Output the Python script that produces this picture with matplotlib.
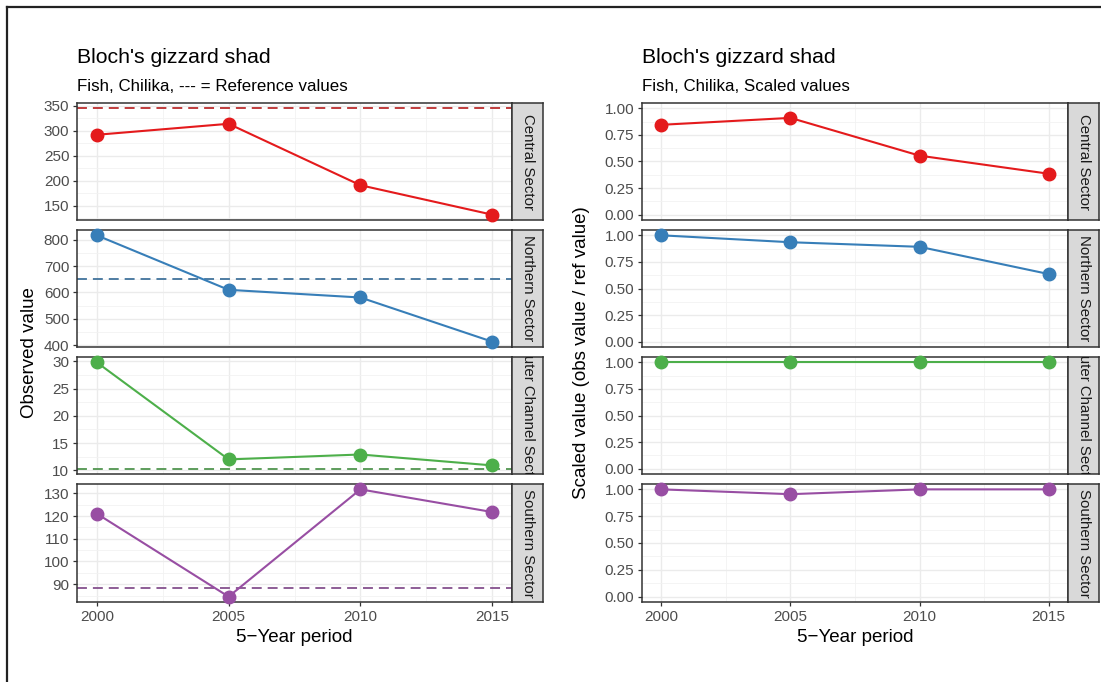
import numpy as np
import matplotlib
matplotlib.use('Agg')
import matplotlib.pyplot as plt
from matplotlib.lines import Line2D
from matplotlib.ticker import FixedLocator, MultipleLocator, FormatStrFormatter
from matplotlib.colors import to_rgb

plt.rcParams['font.family'] = ['Liberation Sans', 'DejaVu Sans']

# data
years = [2000, 2005, 2010, 2015]
sectors = ['Central Sector', 'Northern Sector', 'Outer Channel Sector', 'Southern Sector']
colors = ['#E41A1C', '#377EB8', '#4DAF4A', '#984EA3']

central_obs = [292, 314, 191, 132]
northern_obs = [816, 610, 581, 414]
channel_obs = [29.8, 12.0, 12.9, 10.9]
southern_obs = [121.1, 84.5, 131.8, 121.8]
ref_values = [345, 651, 10.3, 88.2]

central_scaled = [0.845, 0.91, 0.555, 0.385]
northern_scaled = [1.0, 0.935, 0.892, 0.636]
channel_scaled = [1.0, 1.0, 1.0, 1.0]
southern_scaled = [1.0, 0.955, 1.0, 1.0]

obs_ticks = [[150, 200, 250, 300, 350],
             [400, 500, 600, 700, 800],
             [10, 15, 20, 25, 30],
             [90, 100, 110, 120, 130]]
scaled_ticks = [0, 0.25, 0.5, 0.75, 1.0]
x_ticks = [2000, 2005, 2010, 2015]

obs_series = [central_obs, northern_obs, channel_obs, southern_obs]
scaled_series = [central_scaled, northern_scaled, channel_scaled, southern_scaled]

W, H = 1101, 682
fig = plt.figure(figsize=(W / 100, H / 100), dpi=100)
fig.patch.set_facecolor('white')


def box(x0, y0, x1, y1):
    # pixel box (top-left origin) -> figure fraction rect
    return [x0 / W, 1 - y1 / H, (x1 - x0) / W, (y1 - y0) / H]


def blend(c, amount=0.3, grey=0.35):
    r = np.array(to_rgb(c))
    return tuple(r * (1 - amount) + grey * amount)


rows = [(103, 220), (230, 347), (357, 474), (484, 602)]
cols = {'left': (77, 512, 543), 'right': (642, 1068, 1099)}


def style_panel(ax, ticks, fmt, bottom):
    ax.set_facecolor('white')
    for s in ax.spines.values():
        s.set_color('#333333')
        s.set_linewidth(1.1)
    ax.set_xlim(1999.25, 2015.75)
    ax.xaxis.set_major_locator(FixedLocator(x_ticks))
    ax.xaxis.set_minor_locator(FixedLocator([2002.5, 2007.5, 2012.5]))
    ax.yaxis.set_major_locator(FixedLocator(ticks))
    step = ticks[1] - ticks[0]
    ax.yaxis.set_minor_locator(MultipleLocator(step / 2))
    ax.yaxis.set_major_formatter(FormatStrFormatter(fmt))
    ax.grid(which='major', color='#EBEBEB', linewidth=1.0)
    ax.grid(which='minor', color='#F2F2F2', linewidth=0.6)
    ax.set_axisbelow(True)
    ax.tick_params(which='minor', length=0)
    ax.tick_params(which='major', labelsize=11, labelcolor='#4D4D4D',
                   color='#333333', length=3, width=0.9, pad=2.5)
    if not bottom:
        ax.tick_params(axis='x', which='major', length=0, labelbottom=False)


def add_strip(x0, x1, y0, y1, label):
    sa = fig.add_axes(box(x0, y0, x1, y1))
    sa.set_facecolor('#D9D9D9')
    sa.set_xticks([])
    sa.set_yticks([])
    for s in sa.spines.values():
        s.set_color('#333333')
        s.set_linewidth(1.1)
    sa.text(0.5, 0.5, label, rotation=-90, ha='center', va='center',
            fontsize=10.8, color='#1A1A1A', transform=sa.transAxes, clip_on=True)


# left group: observed values with reference lines
px0, px1, sx1 = cols['left']
for i, (y0, y1) in enumerate(rows):
    ax = fig.add_axes(box(px0, y0, px1, y1))
    vals = obs_series[i]
    lo = min(vals + [ref_values[i]])
    hi = max(vals + [ref_values[i]])
    pad = (hi - lo) * 0.05
    ax.set_ylim(lo - pad, hi + pad)
    style_panel(ax, obs_ticks[i], '%g', i == 3)
    ax.axhline(ref_values[i], color=blend(colors[i]), linewidth=1.3,
               linestyle=(0, (5.5, 3.3)), zorder=2)
    ax.plot(years, vals, color=colors[i], linewidth=1.5, marker='o',
            markersize=9, zorder=3, clip_on=False)
    add_strip(px1, sx1, y0, y1, sectors[i])

# right group: scaled values
qx0, qx1, tx1 = cols['right']
for i, (y0, y1) in enumerate(rows):
    ax = fig.add_axes(box(qx0, y0, qx1, y1))
    ax.set_ylim(-0.05, 1.05)
    style_panel(ax, scaled_ticks, '%.2f', i == 3)
    ax.plot(years, scaled_series[i], color=colors[i], linewidth=1.5, marker='o',
            markersize=9, zorder=3, clip_on=False)
    add_strip(qx1, tx1, y0, y1, sectors[i])

# titles and axis titles
fig.text(px0 / W, 1 - 63 / H, "Bloch's gizzard shad", fontsize=15.3, va='baseline', ha='left')
fig.text(px0 / W, 1 - 91 / H, "Fish, Chilika, --- = Reference values", fontsize=12.2,
         va='baseline', ha='left')
fig.text(qx0 / W, 1 - 63 / H, "Bloch's gizzard shad", fontsize=15.3, va='baseline', ha='left')
fig.text(qx0 / W, 1 - 91 / H, "Fish, Chilika, Scaled values", fontsize=12.2,
         va='baseline', ha='left')

mid_y = (rows[0][0] + rows[-1][1]) / 2
fig.text(30 / W, 1 - mid_y / H, 'Observed value', rotation=90, fontsize=13.5,
         ha='center', va='center')
fig.text(582 / W, 1 - mid_y / H, 'Scaled value (obs value / ref value)', rotation=90,
         fontsize=13.5, ha='center', va='center')
fig.text((px0 + px1) / 2 / W, 1 - 638 / H, '5\u2212Year period', fontsize=13.5,
         ha='center', va='center')
fig.text((qx0 + qx1) / 2 / W, 1 - 638 / H, '5\u2212Year period', fontsize=13.5,
         ha='center', va='center')

# outer frame (left and top edges only)
fig.add_artist(Line2D([7 / W, 7 / W], [0, 1 - 7 / H], color='#222222', linewidth=1.6))
fig.add_artist(Line2D([7 / W, 1], [1 - 7 / H, 1 - 7 / H], color='#222222', linewidth=1.6))

fig.savefig('out.png', dpi=100, facecolor='white')
